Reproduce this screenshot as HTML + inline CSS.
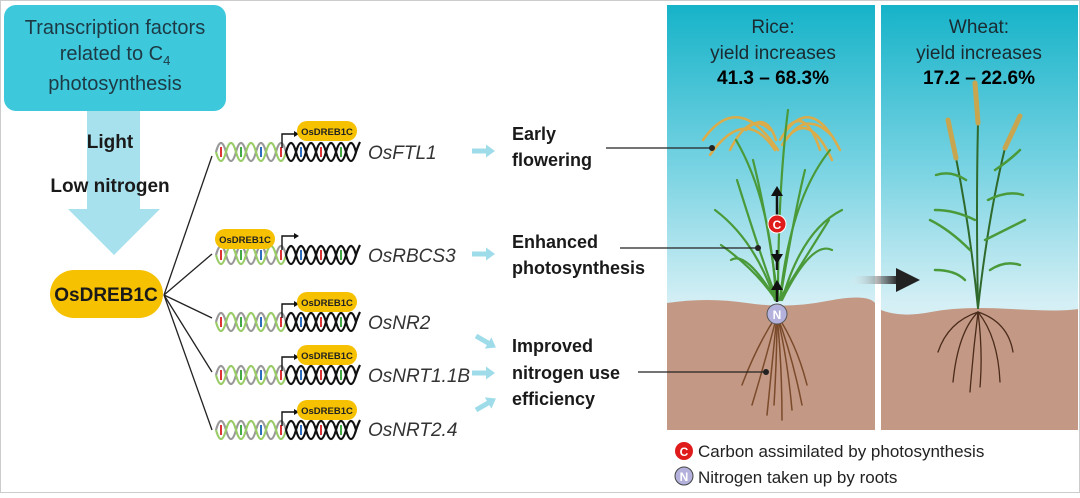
<!DOCTYPE html>
<html><head><meta charset="utf-8"><style>
body{margin:0;background:#fff;width:1080px;height:493px;overflow:hidden;font-family:"Liberation Sans",sans-serif}
</style></head><body>
<svg width="1080" height="493" viewBox="0 0 1080 493" xmlns="http://www.w3.org/2000/svg" font-family="Liberation Sans, sans-serif">
<defs>
<linearGradient id="sky" x1="0" y1="0" x2="0" y2="1">
<stop offset="0" stop-color="#16b3c9"/><stop offset="0.35" stop-color="#6fd0e0"/><stop offset="0.7" stop-color="#d4eff5"/><stop offset="1" stop-color="#eaf7fa"/></linearGradient>
<linearGradient id="ga" x1="0" x2="1"><stop offset="0" stop-color="#fff" stop-opacity="0"/><stop offset="1" stop-color="#222"/></linearGradient>
<g id="helix">
<g stroke-width="2">
<line x1="5" y1="6" x2="5" y2="16" stroke="#d33"/><line x1="25" y1="6" x2="25" y2="16" stroke="#4a4"/><line x1="45" y1="6" x2="45" y2="16" stroke="#2a6ebd"/><line x1="65" y1="6" x2="65" y2="16" stroke="#d33"/><line x1="85" y1="6" x2="85" y2="16" stroke="#2a6ebd"/><line x1="105" y1="6" x2="105" y2="16" stroke="#d33"/><line x1="125" y1="6" x2="125" y2="16" stroke="#4a4"/>
</g>
<path d="M0,11 q5,-18 10,0 t10,0 t10,0 t10,0 t10,0 t10,0 t10,0" fill="none" stroke="#999" stroke-width="2.2"/>
<path d="M0,11 q5,18 10,0 t10,0 t10,0 t10,0 t10,0 t10,0 t10,0" fill="none" stroke="#9c6" stroke-width="2.2"/>
<path d="M70,11 q5,-18 10,0 t10,0 t10,0 t10,0 t10,0 t10,0 t10,0 q2,-6 4,-10" fill="none" stroke="#111" stroke-width="2.2"/>
<path d="M70,11 q5,18 10,0 t10,0 t10,0 t10,0 t10,0 t10,0 t10,0" fill="none" stroke="#111" stroke-width="2.2"/>
</g>
<g id="prom"><path d="M0,0 v-14 h12" fill="none" stroke="#111" stroke-width="1.4"/><path d="M12,-17 l5,3 l-5,3z" fill="#111"/></g>
<g id="pill"><rect x="0" y="0" width="60" height="20" rx="10" fill="#f6c100"/><text x="30" y="14" font-size="9.5" font-weight="bold" text-anchor="middle" fill="#222">OsDREB1C</text></g>
<g id="barr"><path d="M0,-2.5 h14 v-4 l9,6.5 l-9,6.5 v-4 h-14z" fill="#9fdcea"/></g>
</defs>

<rect x="4" y="5" width="222" height="106" rx="12" fill="#3dc8dc"/>
<text font-size="20" fill="#1d3a44" text-anchor="middle"><tspan x="115" y="34">Transcription factors</tspan><tspan x="115" y="60">related to C<tspan font-size="13" dy="5">4</tspan></tspan><tspan x="115" y="90">photosynthesis</tspan></text>
<path d="M87,111 h53 v98 h20 l-46,46 l-46,-46 h19z" fill="#a7e1ed"/>
<text x="110" y="148" font-size="19" font-weight="bold" text-anchor="middle" fill="#1a1a1a">Light</text>
<text x="110" y="192" font-size="19" font-weight="bold" text-anchor="middle" fill="#1a1a1a">Low nitrogen</text>
<rect x="50" y="270" width="113" height="48" rx="24" fill="#f6c100"/>
<text x="106" y="301" font-size="19" font-weight="bold" text-anchor="middle" fill="#1a1a1a">OsDREB1C</text>
<g stroke="#222" stroke-width="1.3">
<line x1="164" y1="295" x2="212" y2="156"/><line x1="164" y1="295" x2="212" y2="254"/><line x1="164" y1="295" x2="212" y2="318"/><line x1="164" y1="295" x2="212" y2="372"/><line x1="164" y1="295" x2="212" y2="430"/></g>

<use href="#helix" x="216" y="141"/><use href="#prom" x="282" y="148"/><use href="#pill" x="297" y="121"/>
<use href="#helix" x="216" y="244"/><use href="#prom" x="282" y="250"/><use href="#pill" x="215" y="229"/>
<use href="#helix" x="216" y="311"/><use href="#prom" x="282" y="318"/><use href="#pill" x="297" y="292"/>
<use href="#helix" x="216" y="364"/><use href="#prom" x="282" y="371"/><use href="#pill" x="297" y="345"/>
<use href="#helix" x="216" y="419"/><use href="#prom" x="282" y="426"/><use href="#pill" x="297" y="400"/>

<g font-size="19" font-style="italic" fill="#333">
<text x="368" y="159">OsFTL1</text><text x="368" y="262">OsRBCS3</text><text x="368" y="329">OsNR2</text><text x="368" y="382">OsNRT1.1B</text><text x="368" y="436">OsNRT2.4</text></g>

<use href="#barr" x="472" y="151"/><use href="#barr" x="472" y="254"/><use href="#barr" x="472" y="373"/>
<use href="#barr" x="0" y="0" transform="translate(476,336) rotate(30)"/>
<use href="#barr" x="0" y="0" transform="translate(476,410) rotate(-30)"/>

<g font-size="18" font-weight="bold" fill="#1a1a1a">
<text x="512" y="140">Early</text><text x="512" y="166">flowering</text>
<text x="512" y="248">Enhanced</text><text x="512" y="274">photosynthesis</text>
<text x="512" y="352">Improved</text><text x="512" y="379">nitrogen use</text><text x="512" y="405">efficiency</text></g>

<rect x="667" y="5" width="208" height="425" fill="url(#sky)"/>
<rect x="881" y="5" width="197" height="425" fill="url(#sky)"/>
<path d="M667,303 q40,-6 80,0 t80,-2 t48,2 V430 H667z" fill="#c39985"/>
<path d="M881,310 q20,8 50,2 t80,-3 t67,0 V430 H881z" fill="#c39985"/>
<g fill="#000" font-size="19" text-anchor="middle">
<text x="773" y="33" fill="#1a2a30">Rice:</text><text x="773" y="59" fill="#1a2a30">yield increases</text><text x="773" y="84" font-weight="bold">41.3 – 68.3%</text>
<text x="979" y="33" fill="#1a2a30">Wheat:</text><text x="979" y="59" fill="#1a2a30">yield increases</text><text x="979" y="84" font-weight="bold">17.2 – 22.6%</text></g>

<g fill="none" stroke-linecap="round">
<g stroke="#e9a93a" stroke-width="2.5" opacity="0.9">
<path d="M775,150 q-30,-45 -65,5"/><path d="M778,150 q-40,-60 -75,-10"/><path d="M780,140 q30,-50 60,10"/><path d="M782,145 q25,-40 50,15"/><path d="M770,130 q-20,-20 -40,20"/><path d="M785,130 q20,-25 35,20"/><path d="M776,140 q-10,-30 -30,-10"/><path d="M786,140 q20,-30 45,-5"/></g>
<g stroke="#4a9a3a" stroke-width="2.2">
<path d="M776,300 q-5,-100 -40,-160"/><path d="M778,300 q0,-110 10,-190"/><path d="M780,300 q10,-100 50,-150"/><path d="M775,300 q-20,-60 -60,-90"/><path d="M782,300 q20,-70 60,-90"/><path d="M776,300 q-30,-50 -45,-40"/><path d="M782,300 q30,-60 50,-50"/><path d="M778,300 q-10,-80 -25,-140"/><path d="M780,300 q15,-90 25,-130"/><path d="M777,300 q-15,-40 -40,-120"/><path d="M779,300 q25,-40 50,-80"/><path d="M776,300 q-20,-30 -55,-55"/></g>
<g stroke="#7a4a2a" stroke-width="1.5">
<path d="M777,315 q-10,40 -25,90"/><path d="M777,315 q-5,50 -10,100"/><path d="M777,315 q5,50 5,105"/><path d="M777,315 q15,40 25,90"/><path d="M777,315 q20,30 30,70"/><path d="M777,315 q-20,30 -35,70"/><path d="M777,315 q0,40 -3,90"/><path d="M777,315 q10,40 15,95"/></g>
</g>
<path d="M777,190 v38 M777,250 v20 M777,282 v20" stroke="#111" stroke-width="2.5"/>
<path d="M771,196 l6,-10 l6,10z M771,254 l6,10 l6,-10z M771,290 l6,-10 l6,10z" fill="#111"/>
<circle cx="777" cy="224" r="9" fill="#e01b1b" stroke="#fff" stroke-width="1"/><text x="777" y="229" font-size="12" font-weight="bold" fill="#fff" text-anchor="middle">C</text>
<circle cx="777" cy="314" r="10" fill="#b4b2dc" stroke="#555" stroke-width="1"/><text x="777" y="319" font-size="12" font-weight="bold" fill="#fff" text-anchor="middle">N</text>
<g stroke="#222" stroke-width="1.2">
<line x1="606" y1="148" x2="712" y2="148"/><line x1="620" y1="248" x2="758" y2="248"/><line x1="638" y1="372" x2="766" y2="372"/></g>
<circle cx="712" cy="148" r="3" fill="#222"/><circle cx="758" cy="248" r="3" fill="#222"/><circle cx="766" cy="372" r="3" fill="#222"/>

<rect x="848" y="276" width="50" height="8" fill="url(#ga)"/><path d="M896,268 l24,12 l-24,12z" fill="#222"/>

<g fill="none" stroke-linecap="round">
<g stroke="#2f6a2c" stroke-width="2"><path d="M978,308 q-8,-80 -22,-150"/><path d="M978,308 q-2,-100 0,-185"/><path d="M978,308 q10,-90 27,-160"/></g>
<g stroke="#4a9a3a" stroke-width="2.5"><path d="M970,250 q-20,-20 -40,-30"/><path d="M975,220 q-20,-10 -40,-10"/><path d="M985,240 q20,-10 40,-20"/><path d="M988,200 q20,-10 35,-5"/><path d="M965,280 q-10,-10 -30,-10"/><path d="M990,270 q15,-10 30,-5"/><path d="M966,180 q-15,-10 -30,-5"/><path d="M995,170 q15,-10 25,-20"/></g>
<g stroke="#c8a650" stroke-width="5"><path d="M956,158 l-8,-38"/><path d="M978,123 l-3,-40"/><path d="M1005,148 l15,-32"/></g>
<g stroke="#4a2a1a" stroke-width="1.3"><path d="M978,312 q-20,20 -25,70"/><path d="M978,312 q-5,40 -8,80"/><path d="M978,312 q5,40 2,75"/><path d="M978,312 q20,25 22,70"/><path d="M978,312 q-30,10 -40,40"/><path d="M978,312 q30,10 35,40"/></g>
</g>

<circle cx="684" cy="451" r="9" fill="#e01b1b"/><text x="684" y="456" font-size="12" font-weight="bold" fill="#fff" text-anchor="middle">C</text>
<text x="698" y="457" font-size="17" fill="#222">Carbon assimilated by photosynthesis</text>
<circle cx="684" cy="476" r="9" fill="#b4b2dc" stroke="#444"/><text x="684" y="481" font-size="12" font-weight="bold" fill="#fff" text-anchor="middle">N</text>
<text x="698" y="483" font-size="17" fill="#222">Nitrogen taken up by roots</text>
<rect x="0.5" y="0.5" width="1079" height="492" fill="none" stroke="#ccc"/>
</svg>
</body></html>
